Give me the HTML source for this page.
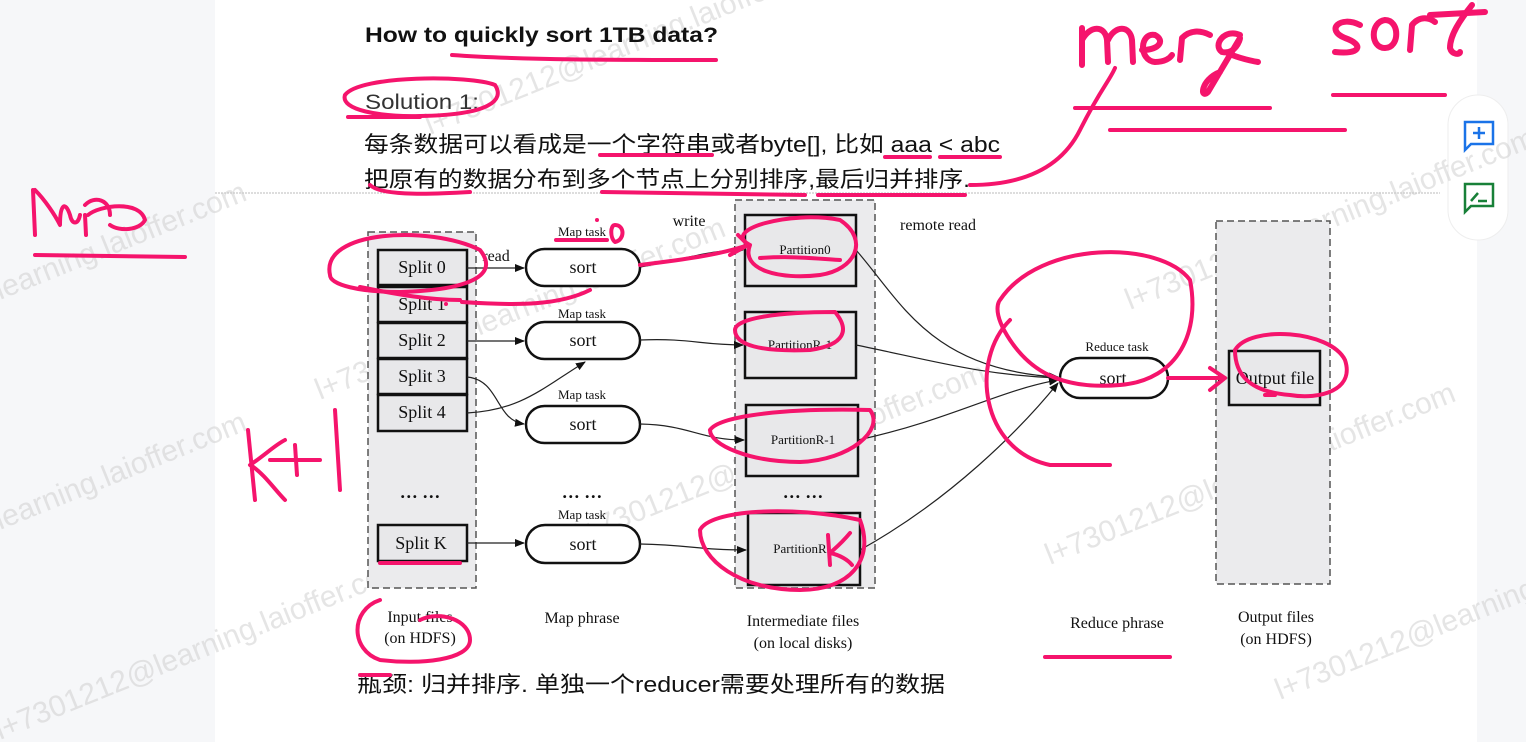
<!DOCTYPE html>
<html><head><meta charset="utf-8"><style>
html,body{margin:0;padding:0;}
body{width:1526px;height:742px;overflow:hidden;background:#f6f7f9;position:relative;font-family:"Liberation Sans","Noto Sans CJK SC",sans-serif;}
svg{position:absolute;left:0;top:0;}
</style></head><body>
<svg width="1526" height="742" viewBox="0 0 1526 742" xmlns="http://www.w3.org/2000/svg">
<defs>
<marker id="ar" markerWidth="10" markerHeight="10" refX="9" refY="5" orient="auto" markerUnits="userSpaceOnUse"><path d="M0,1 L10,5 L0,9 Z" fill="#111"/></marker>
</defs>
<rect x="215" y="0" width="1262" height="742" fill="#fff"/>
<line x1="215" y1="193" x2="1440" y2="193" stroke="#bbb" stroke-dasharray="2,1"/>
<rect x="1448" y="95" width="60" height="145" rx="30" fill="#fff" stroke="#eee"/>
<path d="M1465,122 h28 v22 h-22 l-6,6 z" fill="none" stroke="#1a73e8" stroke-width="2.5"/>
<path d="M1479,127 v12 M1473,133 h12" stroke="#1a73e8" stroke-width="2.5"/>
<path d="M1465,184 h28 v22 h-22 l-6,6 z" fill="none" stroke="#188038" stroke-width="2.5"/>
<path d="M1471,201 l7,-8 M1478,201 h9" stroke="#188038" stroke-width="2.5"/>

<!-- watermarks -->
<g font-family="Liberation Sans, sans-serif" font-size="30" fill="#ccc" fill-opacity="0.5">
<text transform="translate(0,300) rotate(-22)">learning.laioffer.com</text>
<text transform="translate(430,135) rotate(-22)">l+7301212@learning.laioffer.com</text>
<text transform="translate(1130,310) rotate(-22)">l+7301212@learning.laioffer.com</text>
<text transform="translate(320,400) rotate(-22)">l+7301212@learning.laioffer.com</text>
<text transform="translate(0,530) rotate(-22)">learning.laioffer.com</text>
<text transform="translate(580,545) rotate(-22)">l+7301212@learning.laioffer.com</text>
<text transform="translate(1050,565) rotate(-22)">l+7301212@learning.laioffer.com</text>
<text transform="translate(0,740) rotate(-22)">l+7301212@learning.laioffer.com</text>
<text transform="translate(1280,700) rotate(-22)">l+7301212@learning</text>
</g>

<g font-family="Liberation Sans, Noto Sans CJK SC, sans-serif" fill="#111">
<text x="365" y="42" font-size="21" font-weight="bold" textLength="353" lengthAdjust="spacingAndGlyphs">How to quickly sort 1TB data?</text>
<text x="365" y="109" font-size="21" fill="#333" textLength="114" lengthAdjust="spacingAndGlyphs">Solution 1:</text>
<text x="364" y="152" font-size="22" textLength="636" lengthAdjust="spacingAndGlyphs">每条数据可以看成是一个字符串或者byte[], 比如 aaa &lt; abc</text>
<text x="364" y="187" font-size="22" textLength="606" lengthAdjust="spacingAndGlyphs">把原有的数据分布到多个节点上分别排序,最后归并排序.</text>
<text x="357" y="692" font-size="22" textLength="588" lengthAdjust="spacingAndGlyphs">瓶颈: 归并排序. 单独一个reducer需要处理所有的数据</text>
</g>

<g font-family="Liberation Serif, serif" fill="#111">
<rect x="368" y="232" width="108" height="356" fill="#ebebed" stroke="#555" stroke-width="1.5" stroke-dasharray="7,4"/>
<rect x="735" y="200" width="140" height="388" fill="#ebebed" stroke="#555" stroke-width="1.5" stroke-dasharray="7,4"/>
<rect x="1216" y="221" width="114" height="363" fill="#ebebed" stroke="#555" stroke-width="1.5" stroke-dasharray="7,4"/>
<g stroke="#111" stroke-width="2.5" fill="#e8e8ea">
<rect x="378" y="250" width="89" height="35"/>
<rect x="378" y="287" width="89" height="35"/>
<rect x="378" y="323" width="89" height="35"/>
<rect x="378" y="359" width="89" height="35"/>
<rect x="378" y="395" width="89" height="36"/>
<rect x="378" y="525" width="89" height="36"/>
<rect x="745" y="215" width="111" height="71"/>
<rect x="745" y="312" width="111" height="66"/>
<rect x="746" y="405" width="112" height="71"/>
<rect x="748" y="513" width="112" height="72"/>
<rect x="1229" y="351" width="91" height="54"/>
</g>
<g stroke="#111" stroke-width="2.5" fill="#fff">
<rect x="526" y="249" width="114" height="37" rx="18.5"/>
<rect x="526" y="322" width="114" height="37" rx="18.5"/>
<rect x="526" y="406" width="114" height="37" rx="18.5"/>
<rect x="526" y="525" width="114" height="38" rx="19"/>
<rect x="1060" y="358" width="108" height="40" rx="20"/>
</g>
<g font-size="18" text-anchor="middle">
<text x="422" y="273">Split 0</text>
<text x="422" y="310">Split 1</text>
<text x="422" y="346">Split 2</text>
<text x="422" y="382">Split 3</text>
<text x="422" y="418">Split 4</text>
<text x="421" y="549">Split K</text>
<text x="583" y="273">sort</text>
<text x="583" y="346">sort</text>
<text x="583" y="430">sort</text>
<text x="583" y="550">sort</text>
<text x="1113" y="384">sort</text>
<text x="1275" y="384">Output file</text>
<text x="420" y="498" font-weight="bold">… …</text>
<text x="582" y="498" font-weight="bold">… …</text>
<text x="803" y="498" font-weight="bold">… …</text>
</g>
<g font-size="13" text-anchor="middle">
<text x="582" y="236">Map task</text>
<text x="582" y="318">Map task</text>
<text x="582" y="399">Map task</text>
<text x="582" y="519">Map task</text>
<text x="1117" y="351">Reduce task</text>
<text x="805" y="254">Partition0</text>
<text x="800" y="349">PartitionR-1</text>
<text x="803" y="444">PartitionR-1</text>
<text x="800" y="553">PartitionR</text>
</g>
<g font-size="16" text-anchor="middle">
<text x="689" y="226">write</text>
<text x="938" y="230">remote read</text>
<text x="496" y="261">read</text>
<text x="420" y="622">Input files</text>
<text x="420" y="643">(on HDFS)</text>
<text x="582" y="623">Map phrase</text>
<text x="803" y="626">Intermediate files</text>
<text x="803" y="648">(on local disks)</text>
<text x="1117" y="628">Reduce phrase</text>
<text x="1276" y="622">Output files</text>
<text x="1276" y="644">(on HDFS)</text>
</g>
<g stroke="#222" stroke-width="1.2" fill="none" marker-end="url(#ar)">
<path d="M467,268 L524,268"/>
<path d="M467,341 L524,341"/>
<path d="M467,377 C500,380 495,420 524,424"/>
<path d="M467,413 C520,410 540,390 585,362"/>
<path d="M467,543 L524,543"/>
<path d="M640,267 C690,258 710,250 743,250"/>
<path d="M640,340 C690,338 700,345 743,345"/>
<path d="M640,424 C690,425 700,440 744,440"/>
<path d="M640,544 C690,545 700,550 746,550"/>
<path d="M856,250 C900,300 930,370 1058,377"/>
<path d="M856,345 C930,360 980,375 1058,378"/>
<path d="M858,440 C950,420 1000,390 1058,380"/>
<path d="M860,550 C950,500 1020,430 1058,383"/>
<path d="M1168,378 L1227,378"/>
</g>
</g>

<g stroke="#f5146c" stroke-width="4" fill="none" stroke-linecap="round" stroke-linejoin="round">
<path d="M452,55 C520,60 620,60 716,60"/>
<path d="M345,95 C360,75 470,75 495,85 C505,100 490,115 420,116 C380,117 340,110 345,95"/>
<path d="M348,117 L420,117"/>
<path d="M600,155 L712,155"/>
<path d="M885,157 L930,157 M940,157 L1000,157"/>
<path d="M370,185 C380,195 420,195 470,192 M602,192 L805,195 M818,195 L965,195"/>
<path d="M970,185 C1020,185 1060,170 1080,130 C1100,90 1110,80 1115,68"/>
<!-- merge -->
<path stroke-width="6" d="M1082,65 L1082,28 M1082,40 C1090,25 1105,25 1107,40 L1108,62 M1108,40 C1115,25 1130,25 1132,40 L1133,62 M1142,50 C1160,50 1165,40 1155,35 C1140,32 1138,60 1155,62 C1165,62 1170,58 1172,55 M1180,60 L1182,38 C1190,30 1200,30 1210,35 M1240,35 C1225,28 1212,45 1222,52 C1235,55 1240,40 1240,38 L1208,92 C1200,100 1200,80 1220,72 M1232,55 C1245,60 1258,62 1258,62"/>
<!-- sort -->
<path stroke-width="6" d="M1360,25 C1340,15 1325,30 1345,38 C1365,45 1360,55 1335,52 M1385,20 C1370,22 1370,48 1385,48 C1400,48 1400,20 1385,20 M1410,50 L1412,25 C1420,15 1430,18 1435,22 M1472,5 C1460,20 1450,35 1450,48 C1452,55 1460,55 1460,52 M1430,15 L1485,12"/>
<path d="M1075,108 L1270,108 M1333,95 L1445,95 M1110,130 L1345,130"/>
<path d="M33,190 L35,235 M35,190 C45,200 55,215 60,225 C60,205 65,200 70,215 C72,225 78,225 80,215 M85,205 C95,195 110,200 110,215 M85,215 L86,235 M88,215 C100,205 140,200 145,220 C140,230 120,232 110,225"/>
<path d="M35,255 L185,257"/>
<path d="M330,275 C320,230 430,225 480,250 C500,275 470,290 400,292 C360,292 330,285 330,275"/>
<path d="M360,287 C400,295 430,300 460,300 M462,302 C520,306 560,305 590,290"/>
<path d="M556,240 L607,240 M615,225 C625,225 625,240 615,242 C610,238 610,225 615,225"/>
<path d="M640,265 C680,260 720,255 748,245 M730,255 L748,245 L738,235"/>
<path d="M750,245 C720,230 790,210 840,220 C870,240 855,270 820,275 C780,280 740,270 750,245"/>
<path d="M760,258 C790,256 810,258 840,260"/>
<path d="M735,330 C735,318 780,312 835,312 C850,330 845,345 810,350 C760,352 735,345 735,330"/>
<path d="M710,430 C720,415 790,408 870,410 C885,430 850,460 800,462 C750,462 710,445 710,430"/>
<path d="M700,530 C710,510 790,505 860,520 C875,560 850,590 800,590 C740,590 700,560 700,530"/>
<path d="M828,535 L830,565 M850,533 C840,545 833,550 830,553 C840,555 848,560 852,565"/>
<path d="M1000,300 C1040,240 1160,240 1190,280 C1200,330 1180,380 1120,385 C1060,390 1030,370 1010,340 C990,310 1000,300 1000,300 M1010,320 C970,360 980,450 1050,465 L1110,465"/>
<path d="M1168,378 L1225,378 M1210,368 L1225,378 L1210,390"/>
<path d="M1235,350 C1250,325 1330,330 1345,360 C1355,390 1320,400 1290,395 C1250,392 1235,375 1235,350"/>
<path d="M1265,395 L1275,395"/>
<path d="M1045,657 L1170,657"/>
<path d="M380,563 L460,563"/>
<path d="M380,600 C350,610 350,650 380,660 C420,665 470,660 470,640 C470,620 440,610 420,620"/>
<path d="M360,675 L390,675"/>
<path d="M248,430 L255,500 M250,465 C265,455 275,445 285,440 M252,466 C265,475 275,490 285,500 M270,460 L320,460 M295,445 L297,475 M335,410 L340,490"/>
</g>
<circle cx="446" cy="304" r="2" fill="#f5146c"/>
<circle cx="597" cy="220" r="2" fill="#f5146c"/>
</svg>
</body></html>
